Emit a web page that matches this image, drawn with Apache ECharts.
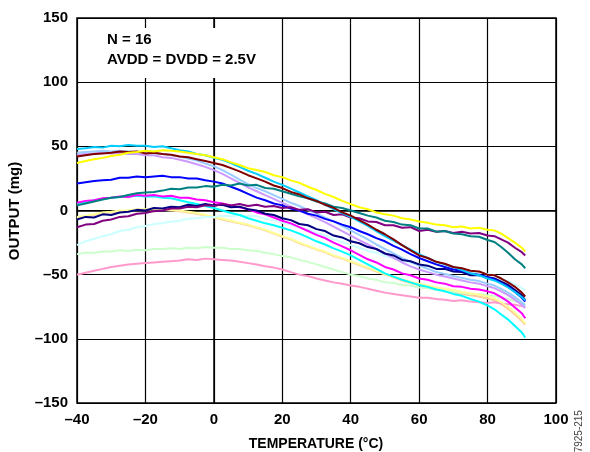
<!DOCTYPE html>
<html>
<head>
<meta charset="utf-8">
<script src="https://cdn.jsdelivr.net/npm/echarts@6/dist/echarts.min.js"></script>
<style>
html,body{margin:0;padding:0;background:#fff;}
#chart{width:590px;height:452px;}
</style>
</head>
<body>
<div id="chart"></div>
<script>
const temps = [
  -40,-37.5,-35,-32.5,-30,-27.5,-25,-22.5,-20,-17.5,
  -15,-12.5,-10,-7.5,-5,-2.5,0,2.5,5,7.5,
  10,12.5,15,17.5,20,22.5,25,27.5,30,32.5,
  35,37.5,40,42.5,45,47.5,50,52.5,55,57.5,
  60,62.5,65,67.5,70,72.5,75,77.5,80,
  82,84,86,88,90,91];

const navy = [
  -7,-5,-5.5,-3,-3.5,-1.5,-1,0.5,0,2,
  1.5,3,2.5,4.5,3.5,5,4,4.5,2.5,3,
  1,0,-2.5,-3.5,-6,-7.5,-10.5,-11.5,-14.5,-16,
  -19.5,-21,-24,-25.5,-28.5,-30,-33.5,-35,-38.5,-39.5,
  -42,-43,-45.5,-45.5,-47.5,-48,-50.5,-50.5,-52,
  -53,-55.5,-58,-62,-66,-70];
const magenta = [
  6,7.5,8,9.5,10,11,10.5,12,11.5,12,
  11,11.5,10,10,8.5,8,6.5,5.5,4,2.5,
  1,-1.5,-3,-5.5,-8,-10,-13,-16,-19,-21.5,
  -25,-28,-31,-34.5,-38,-40.5,-44,-46,-49,-50.5,
  -53,-54,-56,-57,-59,-59.5,-61,-61.5,-63,
  -64.5,-67.5,-71,-75.5,-80,-84];
const yellow = [
  37,38.5,40,41,42.5,43.5,45,45.5,46.5,46,
  47,46.5,46,45,44,43,41.5,40,37.5,35.5,
  33,31.5,30,27.5,26,23.5,21.5,18.5,16,13,
  10.5,7.5,5,2.5,1,-1.5,-3,-4,-6,-7,
  -8.5,-9.5,-11,-11.5,-13,-12.5,-14,-13.5,-15,
  -15.5,-18,-21.5,-25,-29,-32];
const cyan = [
  5,6,8,9,10,10.5,11,11.5,11,11,
  10,9.5,8,6.5,5,3.5,2,0,-2,-3.5,
  -6,-8,-10,-11.5,-13.5,-15.5,-18,-21,-24,-26.5,
  -29.5,-32,-35,-38.5,-42,-45.5,-49,-51.5,-54,-56,
  -58,-59.5,-61.5,-63,-65,-66.5,-69,-71,-74,
  -77,-81,-85,-90,-95,-99];
const purple = [
  -13,-11,-10.5,-8,-7,-5,-4.5,-2.5,-2,-0.5,
  0,1.5,1.5,3,2.5,4,3.5,5,4,5,
  3.5,4.5,3,3.5,2,2.5,0.5,1,-1.5,-1,
  -3.5,-3,-5.5,-6,-8.5,-9,-11.5,-11.5,-13.5,-13,
  -16,-15,-16.5,-16,-17.5,-16.5,-18,-17.5,-19.5,
  -20,-22.5,-25,-29,-32.5,-35];
const darkRed = [
  42,43,44,44.5,45,46,45.5,46,44.5,45,
  44,43.5,42,41.5,40,38.5,37,35.5,33,30.5,
  27.5,25,22.5,19.5,17.5,14.5,12.5,9.5,7.5,4.5,
  2,-1.5,-4,-7.5,-11,-15,-18.5,-22.5,-27,-31,
  -35,-37,-40,-41.5,-44,-45,-47,-47.5,-50,
  -50.5,-53,-56,-59.5,-64,-67];
const teal = [
  4,5.5,7,8.5,10,10.5,12,13.5,14,14.5,
  15.5,17,16.5,18,18,19,18.5,20,19.5,21,
  19.5,20,17.5,17,15,13,11,9.5,7,5.5,
  3,2,0,-2,-4,-5.5,-8,-9,-11,-11.5,
  -14,-14,-16.5,-16,-18,-18.5,-20,-20.5,-23,
  -24.5,-28.5,-33,-38,-42,-45];
const blue = [
  21,22,23,23.5,24,25.5,25.5,26.5,26,26.5,
  27,26,26,25,25,23.5,22.5,21,18.5,16,
  13,10,8,5.5,4,1.5,0,-2.5,-4,-6.5,
  -8.5,-11,-13,-16,-18.5,-21.5,-24,-27.5,-30.5,-34,
  -37,-39.5,-42,-44,-46,-47,-49,-50,-52,
  -53.5,-56.5,-59.5,-63.5,-68,-71];
const skyBlue = [
  48,48.5,49.5,49,50.5,50,51,50.5,50.5,49.5,
  50,48.5,47,46,44,43,41,39.5,37,34,
  31,28.5,25.5,22.5,20,17,14,11,8,4.5,
  1,-2,-5,-8.5,-12,-16,-20,-23.5,-27,-30.5,
  -34,-37,-40,-42,-44,-46.5,-49,-50.5,-53,
  -54.5,-57,-60,-63.5,-67.5,-70];
const lightCyan = [
  -27,-24,-22,-20,-18.5,-16,-15,-13,-12,-10.5,
  -10,-8.5,-8,-6.5,-6,-5,-5,-4,-4.5,-3.5,
  -4.5,-4.5,-6.5,-7.5,-9.5,-11,-13.5,-15,-17.5,-19.5,
  -22.5,-24.5,-27,-29,-31.5,-33,-35.5,-37,-39,-40.5,
  -42,-43.5,-45,-45.5,-47,-47,-48.5,-48,-49.5,
  -50.5,-53,-55,-57.5,-60.5,-62];
const lightGreen = [
  -34,-33,-33,-32,-32,-31,-31.5,-30.5,-31,-30,
  -30,-29.5,-30,-29,-29.5,-28.5,-29,-29,-30,-30,
  -31,-31.5,-33,-34,-35.5,-36.5,-38.5,-40,-42,-44,
  -46,-48,-50,-51,-53,-54,-56,-56.5,-58,-58.5,
  -60,-60.5,-62,-62,-63.5,-64,-65,-65,-66,
  -66.5,-68,-69,-70.5,-72,-73];
const lightYellow = [
  -5,-4,-3,-1.5,-1,0,0,1,1,1.5,
  1,0.5,0,-1,-2,-3.5,-5,-6.5,-8,-9.5,
  -11,-13,-15,-17.5,-20,-22,-25,-27.5,-30,-32,
  -35,-37,-39.5,-42,-44.5,-47,-49.5,-51.5,-53.5,-55.5,
  -57,-58.5,-60,-61,-62,-63.5,-64.5,-65.5,-67,
  -68.5,-71.5,-75,-79.5,-84.5,-88];
const paleBlue = [
  45,45.5,46,46.5,46,46.5,46,45.5,45,44.5,
  44,43,42,40.5,39,36.5,34.5,31.5,28,24,
  20.5,17.5,15,12,9,6,3.5,0.5,-2.5,-5.5,
  -8.5,-12,-15.5,-19,-22.5,-26.5,-30,-33.5,-37,-40,
  -43,-45.5,-48,-49.5,-51,-52.5,-54,-55,-57,
  -58.5,-61,-64,-67.5,-71.5,-74];
const rose = [
  -50,-48.5,-47,-45.5,-44,-43,-42,-41.5,-41,-40.5,
  -40,-39.5,-39,-38,-38.5,-37.5,-38,-38.5,-39,-40,
  -41,-42,-43.5,-44.5,-46,-48,-50,-51,-53,-54.5,
  -56,-57,-58.5,-59.5,-61,-62.5,-64,-65,-66,-67,
  -68,-68,-69,-69.5,-70.5,-70,-71,-71.5,-72,
  -71.5,-72.5,-73,-73.5,-74.5,-75];
const lavender = [
  43.5,44,44.5,45,44.5,45,44,44,43,43,
  41.5,41,39.5,38,36,34,31.5,28.5,25,21.5,
  18,15,12,9,6,3,0,-3,-6,-9,
  -12.5,-16,-19.5,-23,-26.5,-30,-33.5,-37,-40.5,-43.5,
  -46,-48,-50,-51.5,-53,-54.5,-56,-57,-59,
  -60.5,-63,-66,-69.5,-73.5,-76];
const tan = [
  -6,-4.5,-3.5,-2,-1.5,-0.5,-0.5,0.5,0.5,1,
  0.5,0,-0.5,-1.5,-2.5,-4,-5.5,-7,-8.5,-10,
  -11.5,-13.5,-15.5,-18,-20.5,-22.5,-25.5,-28,-30.5,-32.5,
  -35.5,-37.5,-40,-42.5,-45,-47.5,-50,-52,-54.5,-56.5,
  -58,-59.5,-61,-62,-63.5,-65,-66,-67,-68.5,
  -70,-73,-76.5,-81,-86,-89];

const xTicks = [-40,-20,0,20,40,60,80,100];
const yTicks = [-150,-100,-50,0,50,100,150];

const seriesList = [
  ['tan', tan, '#FFCC99'],
  ['rose', rose, '#FF99CC'],
  ['lightGreen', lightGreen, '#CCFFCC'],
  ['lightYellow', lightYellow, '#FFFF99'],
  ['lightCyan', lightCyan, '#CCFFFF'],
  ['lavender', lavender, '#CC99FF'],
  ['paleBlue', paleBlue, '#99CCFF'],
  ['cyan', cyan, '#00FFFF'],
  ['magenta', magenta, '#FF00FF'],
  ['navy', navy, '#000080'],
  ['blue', blue, '#0000FF'],
  ['purple', purple, '#800080'],
  ['teal', teal, '#008080'],
  ['skyBlue', skyBlue, '#00CCFF'],
  ['darkRed', darkRed, '#800000'],
  ['yellow', yellow, '#FFFF00']
];

const FONT = 'Arial, "Liberation Sans", Helvetica, sans-serif';
const dash = v => String(v).replace('-', '\u2013');

const chart = echarts.init(document.getElementById('chart'), null, {renderer:'canvas'});
chart.setOption({
  animation: false,
  backgroundColor: '#fff',
  grid: {left:77, right:34, top:18, bottom:49, show:true, borderColor:'#000', borderWidth:1.5, containLabel:false},
  xAxis: {
    type:'value', min:xTicks[0], max:xTicks[xTicks.length-1], interval:20,
    axisLine:{show:true, lineStyle:{color:'#000', width:1.5}},
    axisTick:{show:false},
    splitLine:{show:true, lineStyle:{color:'#000', width:1.2}},
    axisLabel:{color:'#000', fontWeight:'bold', fontSize:15, fontFamily:FONT, margin:9, formatter:dash}
  },
  yAxis: {
    type:'value', min:yTicks[0], max:yTicks[yTicks.length-1], interval:50,
    axisLine:{show:true, lineStyle:{color:'#000', width:1.5}},
    axisTick:{show:false},
    splitLine:{show:true, lineStyle:{color:'#000', width:1.2}},
    axisLabel:{color:'#000', fontWeight:'bold', fontSize:15, fontFamily:FONT, margin:9, formatter:dash}
  },
  series: seriesList.map(([name, vals, color]) => ({
    name, type:'line', showSymbol:false, symbol:'none',
    data: temps.map((t,i) => [t, vals[i]]),
    lineStyle:{color, width:2}, itemStyle:{color}
  })),
  graphic: [
    {type:'text', x:101, y:28, z:100, style:{text:'N = 16\nAVDD = DVDD = 2.5V', fill:'#000', font:'bold 15px ' + FONT, lineHeight:20, backgroundColor:'#fff', padding:[2,6,8,6]}},
    {type:'text', x:316, y:444, z:100, style:{text:'TEMPERATURE (\u00B0C)', fill:'#000', font:'bold 14px ' + FONT, textAlign:'center', textVerticalAlign:'middle'}},
    {type:'text', x:15, y:211, rotation:Math.PI/2, z:100, style:{text:'OUTPUT (mg)', fill:'#000', font:'bold 15px ' + FONT, textAlign:'center', textVerticalAlign:'middle'}},
    {type:'text', x:579, y:434, rotation:Math.PI/2, z:100, style:{text:'07925-215', fill:'#444', font:'10px ' + FONT, textAlign:'center', textVerticalAlign:'middle'}}
  ]
});
</script>
</body>
</html>
